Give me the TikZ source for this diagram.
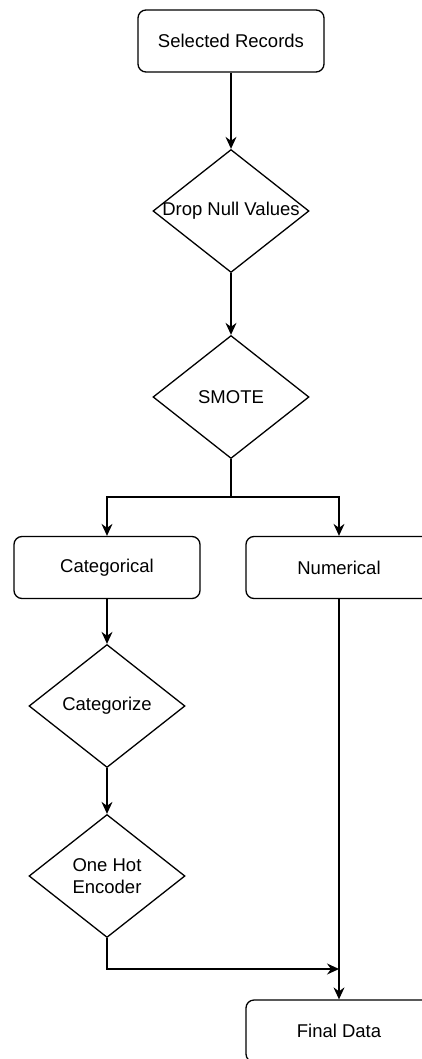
\documentclass[tikz,border=0pt]{standalone}
\usepackage{fontspec}
\setmainfont{Liberation Sans}
\usepackage{tikz}
\usetikzlibrary{positioning,arrows.meta,shapes.geometric}

\begin{document}
\begin{tikzpicture}[x=1pt,y=-1pt,line width=1.3pt,
    font=\fontsize{18.5}{22}\selectfont,
    box/.style={draw,rounded corners=8pt,minimum width=186pt,minimum height=62pt,inner sep=0pt},
    dia/.style={draw,diamond,minimum width=156pt,minimum height=123pt,inner sep=0pt},
    every label/.style={align=center,inner sep=0pt},
    flow/.style={-{Stealth[length=12pt,width=11pt,inset=4pt]}}]
  \useasboundingbox (0,0) rectangle (422,1059);
  \clip (0,0) rectangle (422,1059);
  \node[box] (rec) at (231,41) {Selected Records};
  \node[dia,label=center:{Drop Null Values}] (drop) at (231,211) {};
  \node[dia,label=center:{SMOTE}] (smote) at (231,397) {};
  \node[box] (cat) at (107,567.5) {Categorical};
  \node[box] (num) at (339,567.5) {Numerical};
  \node[dia,label=center:{Categorize}] (catz) at (107,706) {};
  \node[dia,label=center:{One Hot\\Encoder}] (ohe) at (107,876) {};
  \node[box] (fin) at (339,1031) {Final Data};
  \coordinate (split) at (231,497);
  \coordinate (join) at (339,969);
  \draw[flow] (rec) -- (drop);
  \draw[flow] (drop) -- (smote);
  \draw[flow] (smote.south) -- (split) -| (cat.north);
  \draw[flow] (split) -| (num.north);
  \draw[flow] (cat) -- (catz);
  \draw[flow] (catz) -- (ohe);
  \draw[flow] (ohe.south) |- (join);
  \draw[flow] (num) -- (fin);
\end{tikzpicture}
\end{document}
